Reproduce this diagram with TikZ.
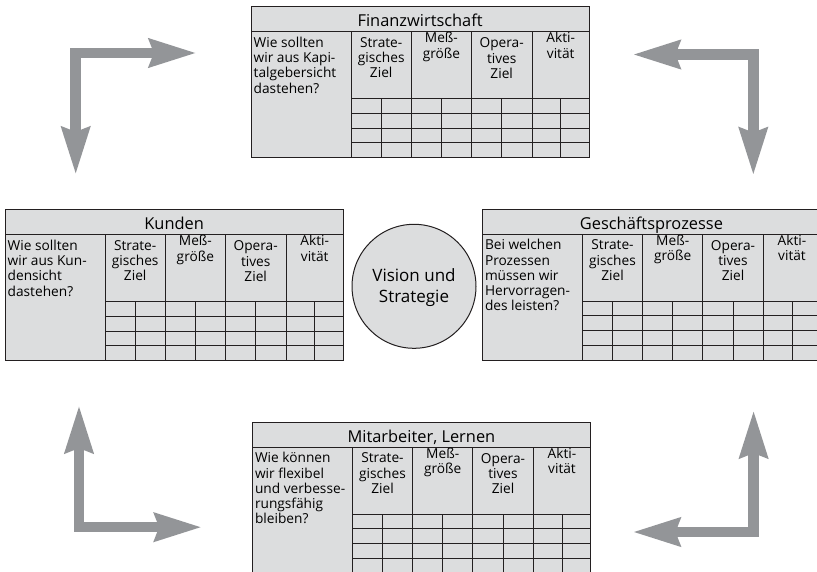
\documentclass[tikz,border=0pt]{standalone}
\usepackage{fontspec}
\setmainfont{Open Sans}
\usetikzlibrary{arrows.meta}
\definecolor{tblfill}{RGB}{220,221,222}
\definecolor{arrgray}{RGB}{147,149,152}
\definecolor{lncol}{RGB}{35,31,32}
\tikzset{
  tblline/.style={draw=lncol, line width=1pt},
  tblframe/.style={tblline, fill=tblfill, rectangle, inner sep=0pt, outer sep=0pt,
    anchor=north west, minimum width=338.3pt, minimum height=150.7pt},
  titletext/.style={font=\fontsize{16.4}{19}\selectfont, inner sep=0pt, anchor=base},
  bodytext/.style={font=\fontsize{13.7}{15.3}\selectfont, inner sep=0pt, anchor=north},
  qtext/.style={bodytext, align=left, anchor=north west},
  hdtext/.style={bodytext, align=center},
  circnode/.style={circle, draw=lncol, line width=1pt, fill=tblfill, minimum size=124pt, inner sep=0pt},
  circtext/.style={font=\fontsize{17}{20.7}\selectfont, align=center, inner sep=0pt, anchor=north},
  bigarrow/.style={draw=arrgray, line width=10.5pt,
    {Stealth[length=47pt,width=27pt,inset=4pt]}-{Stealth[length=47pt,width=27pt,inset=4pt]}},
}
% #1 name, #2 x, #3 y, #4 title, #5 question
\newcommand\bsctable[5]{%
\begin{scope}[shift={(#2,#3)}]
  \node[tblframe] (#1) at (0,0) {};
  \draw[tblline] (0,25) -- (338.3,25);
  \draw[tblline] (100,25) -- (100,150.7);
  \foreach \cx in {160.4,220.4,281} {\draw[tblline] (\cx,25) -- (\cx,150.7);}
  \foreach \ry in {91.5,106.3,121.1,135.9} {\draw[tblline] (100,\ry) -- (338.3,\ry);}
  \foreach \sx in {130.2,190.4,250.7,309.7} {\draw[tblline] (\sx,91.5) -- (\sx,150.7);}
  \node[titletext] (#1-t) at (169.15,19.7) {#4};
  \node[qtext] (#1-q) at (2.5,29.3) {#5};
  \node[hdtext] (#1-a) at (130.2,29.3) {\strut Strate-\\gisches\\Ziel};
  \node[hdtext] (#1-b) at (190.4,24.8) {\strut Meß-\\größe};
  \node[hdtext] (#1-c) at (250.7,29.8) {\strut Opera-\\tives\\Ziel};
  \node[hdtext] (#1-d) at (309.7,24.8) {\strut Akti-\\vität};
\end{scope}}
\begin{document}
\begin{tikzpicture}[x=1pt,y=-1pt]
\useasboundingbox (0,0) rectangle (817,572);
\clip (0,0) rectangle (817,572);
% tables
\bsctable{fin}{251}{7}{Finanzwirtschaft}{\strut Wie sollten\\wir aus Kapi-\\talgebersicht\\dastehen?}
\bsctable{kun}{5}{210}{Kunden}{\strut Wie sollten\\wir aus Kun-\\densicht\\dastehen?}
\bsctable{ges}{482.3}{209.5}{Geschäftsprozesse}{\strut Bei welchen\\Prozessen\\müssen wir\\Hervorragen-\\des leisten?}
\bsctable{mit}{252.3}{422.5}{Mitarbeiter, Lernen}{\strut Wie können\\wir flexibel\\und verbesse-\\rungsfähig\\bleiben?}
% centre
\node[circnode] (vis) at (414,286.3) {};
\node[circtext] (vis-t) at (414,267.2) {\strut Vision und\\Strategie};
% arrows
\coordinate (tl1) at (197,53);
\coordinate (tlc) at (75.7,53);
\coordinate (tl2) at (75.7,175);
\coordinate (tr1) at (632.3,54.5);
\coordinate (trc) at (753.3,54.5);
\coordinate (tr2) at (753.3,175.7);
\coordinate (bl1) at (79,405);
\coordinate (blc) at (79,527.2);
\coordinate (bl2) at (202.3,527.2);
\coordinate (br1) at (753.6,410);
\coordinate (brc) at (753.6,532);
\coordinate (br2) at (632.3,532);
\draw[bigarrow] (tl1) -- (tlc) -- (tl2);
\draw[bigarrow] (tr1) -- (trc) -- (tr2);
\draw[bigarrow] (bl1) -- (blc) -- (bl2);
\draw[bigarrow] (br1) -- (brc) -- (br2);
\end{tikzpicture}
\end{document}
